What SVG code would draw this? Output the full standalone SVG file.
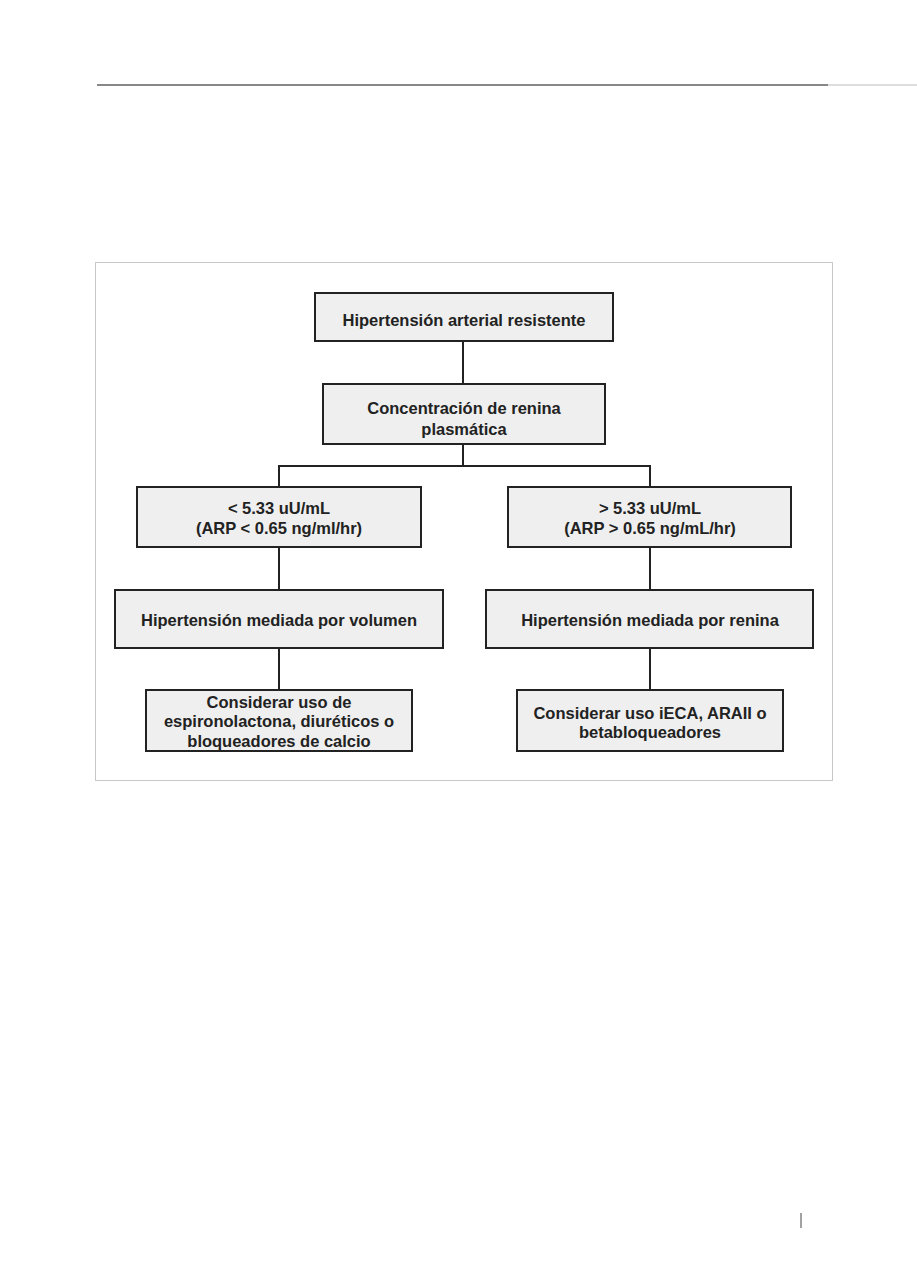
<svg xmlns="http://www.w3.org/2000/svg" width="917" height="1288" viewBox="0 0 917 1288">
<style>
.box{fill:#efefef;stroke:#222;stroke-width:2}
.t{font-family:"Liberation Sans",Arial,sans-serif;font-weight:bold;font-size:16.5px;fill:#222;text-anchor:middle}
.c{stroke:#222;stroke-width:2;fill:none}
</style>
<rect width="917" height="1288" fill="#fff"/>
<line x1="97" y1="85" x2="828" y2="85" stroke="#888" stroke-width="2"/>
<line x1="828" y1="85" x2="917" y2="85" stroke="#ddd" stroke-width="2"/>
<rect x="95.5" y="262.5" width="737" height="518" fill="none" stroke="#c8c8c8" stroke-width="1"/>
<line x1="801" y1="1213" x2="801" y2="1228" stroke="#444" stroke-width="1"/>
<g id="connectors">
<line class="c" x1="463" y1="341" x2="463" y2="384"/>
<line class="c" x1="463" y1="444" x2="463" y2="466"/>
<polyline class="c" points="279,487 279,466 650,466 650,487"/>
<line class="c" x1="279" y1="547" x2="279" y2="590"/>
<line class="c" x1="650" y1="547" x2="650" y2="590"/>
<line class="c" x1="279" y1="648" x2="279" y2="690"/>
<line class="c" x1="650" y1="648" x2="650" y2="690"/>
</g>
<g id="n1"><rect class="box" x="315" y="293" width="298" height="48"/><text class="t" x="464" y="326">Hipertensión arterial resistente</text></g>
<g id="n2"><rect class="box" x="323" y="384" width="282" height="60"/><text class="t" x="464" y="414">Concentración de renina</text><text class="t" x="464" y="435">plasmática</text></g>
<g id="n3"><rect class="box" x="137" y="487" width="284" height="60"/><text class="t" x="279" y="514">&lt; 5.33 uU/mL</text><text class="t" x="279" y="534">(ARP &lt; 0.65 ng/ml/hr)</text></g>
<g id="n4"><rect class="box" x="508" y="487" width="283" height="60"/><text class="t" x="650" y="514">&gt; 5.33 uU/mL</text><text class="t" x="650" y="534">(ARP &gt; 0.65 ng/mL/hr)</text></g>
<g id="n5"><rect class="box" x="115" y="590" width="328" height="58"/><text class="t" x="279" y="626">Hipertensión mediada por volumen</text></g>
<g id="n6"><rect class="box" x="486" y="590" width="327" height="58"/><text class="t" x="650" y="626">Hipertensión mediada por renina</text></g>
<g id="n7"><rect class="box" x="146" y="690" width="266" height="61"/><text class="t" x="279" y="708">Considerar uso de</text><text class="t" x="279" y="727">espironolactona, diuréticos o</text><text class="t" x="279" y="747">bloqueadores de calcio</text></g>
<g id="n8"><rect class="box" x="517" y="690" width="266" height="61"/><text class="t" x="650" y="719">Considerar uso iECA, ARAII o</text><text class="t" x="650" y="738">betabloqueadores</text></g>
</svg>
